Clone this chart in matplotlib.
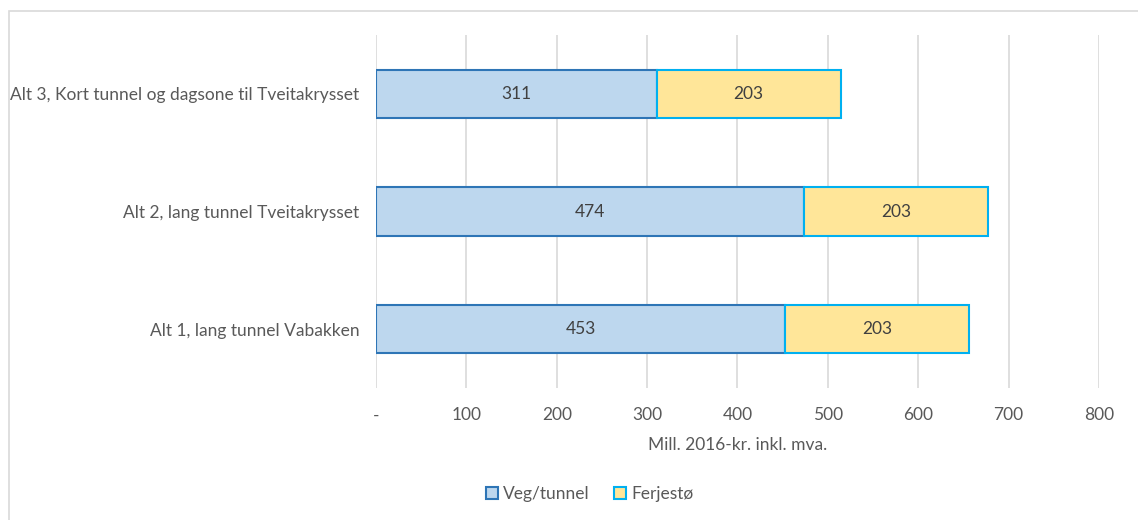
import matplotlib.pyplot as plt
from matplotlib.patches import Rectangle

categories = ['Alt 1, lang tunnel Vabakken', 'Alt 2, lang tunnel Tveitakrysset',
              'Alt 3, Kort tunnel og dagsone til Tveitakrysset']
veg_tunnel = [453, 474, 311]
ferjesto = [203, 203, 203]
xticks = [0, 100, 200, 300, 400, 500, 600, 700, 800]
xticklabels = ['-', '100', '200', '300', '400', '500', '600', '700', '800']

plt.rcParams['font.family'] = ['Lato', 'DejaVu Sans']
txt = '#595959'
fs = 12.5

fig = plt.figure(figsize=(11.38, 5.2), dpi=100)
ax = fig.add_axes([0.3304, 0.2538, 0.6353, 0.6788])

y = range(len(categories))
b1 = ax.barh(y, veg_tunnel, height=0.41, color='#BDD7EE', edgecolor='#2E75B6',
             linewidth=1.5, label='Veg/tunnel', zorder=3)
b2 = ax.barh(y, ferjesto, left=veg_tunnel, height=0.41, color='#FFE699',
             edgecolor='#00B0F0', linewidth=1.5, label='Ferjestø', zorder=3)
for vals, lefts in [(veg_tunnel, [0] * 3), (ferjesto, veg_tunnel)]:
    for i, v in enumerate(vals):
        ax.text(lefts[i] + v / 2, i, str(v), ha='center', va='center',
                fontsize=fs, color='#404040', zorder=4)

ax.set_xlim(0, 800)
ax.set_ylim(-0.5, 2.5)
ax.set_xticks(xticks)
ax.set_xticklabels(xticklabels)
ax.set_yticks(list(y))
ax.set_yticklabels(categories)
ax.tick_params(length=0, labelsize=fs, colors=txt)
ax.tick_params(axis='x', pad=14)
ax.tick_params(axis='y', pad=12)
ax.grid(axis='x', color='#D9D9D9', linewidth=1.2, zorder=0)
for s in ax.spines.values():
    s.set_visible(False)
ax.set_xlabel('Mill. 2016-kr. inkl. mva.', fontsize=fs, color=txt, labelpad=10)

ax.legend(loc='lower center', bbox_to_anchor=(0.518, 0.005), bbox_transform=fig.transFigure,
          ncol=2, frameon=False, fontsize=fs, labelcolor=txt, handlelength=0.7,
          handleheight=0.7, handletextpad=0.3, columnspacing=1.4)

fig.patches.append(Rectangle((9 / 1138, -0.1), 1.2, 1 - 11 / 520 + 0.1,
                             transform=fig.transFigure, fill=False,
                             edgecolor='#D9D9D9', linewidth=1.2))

fig.savefig('out.png', dpi=100)
